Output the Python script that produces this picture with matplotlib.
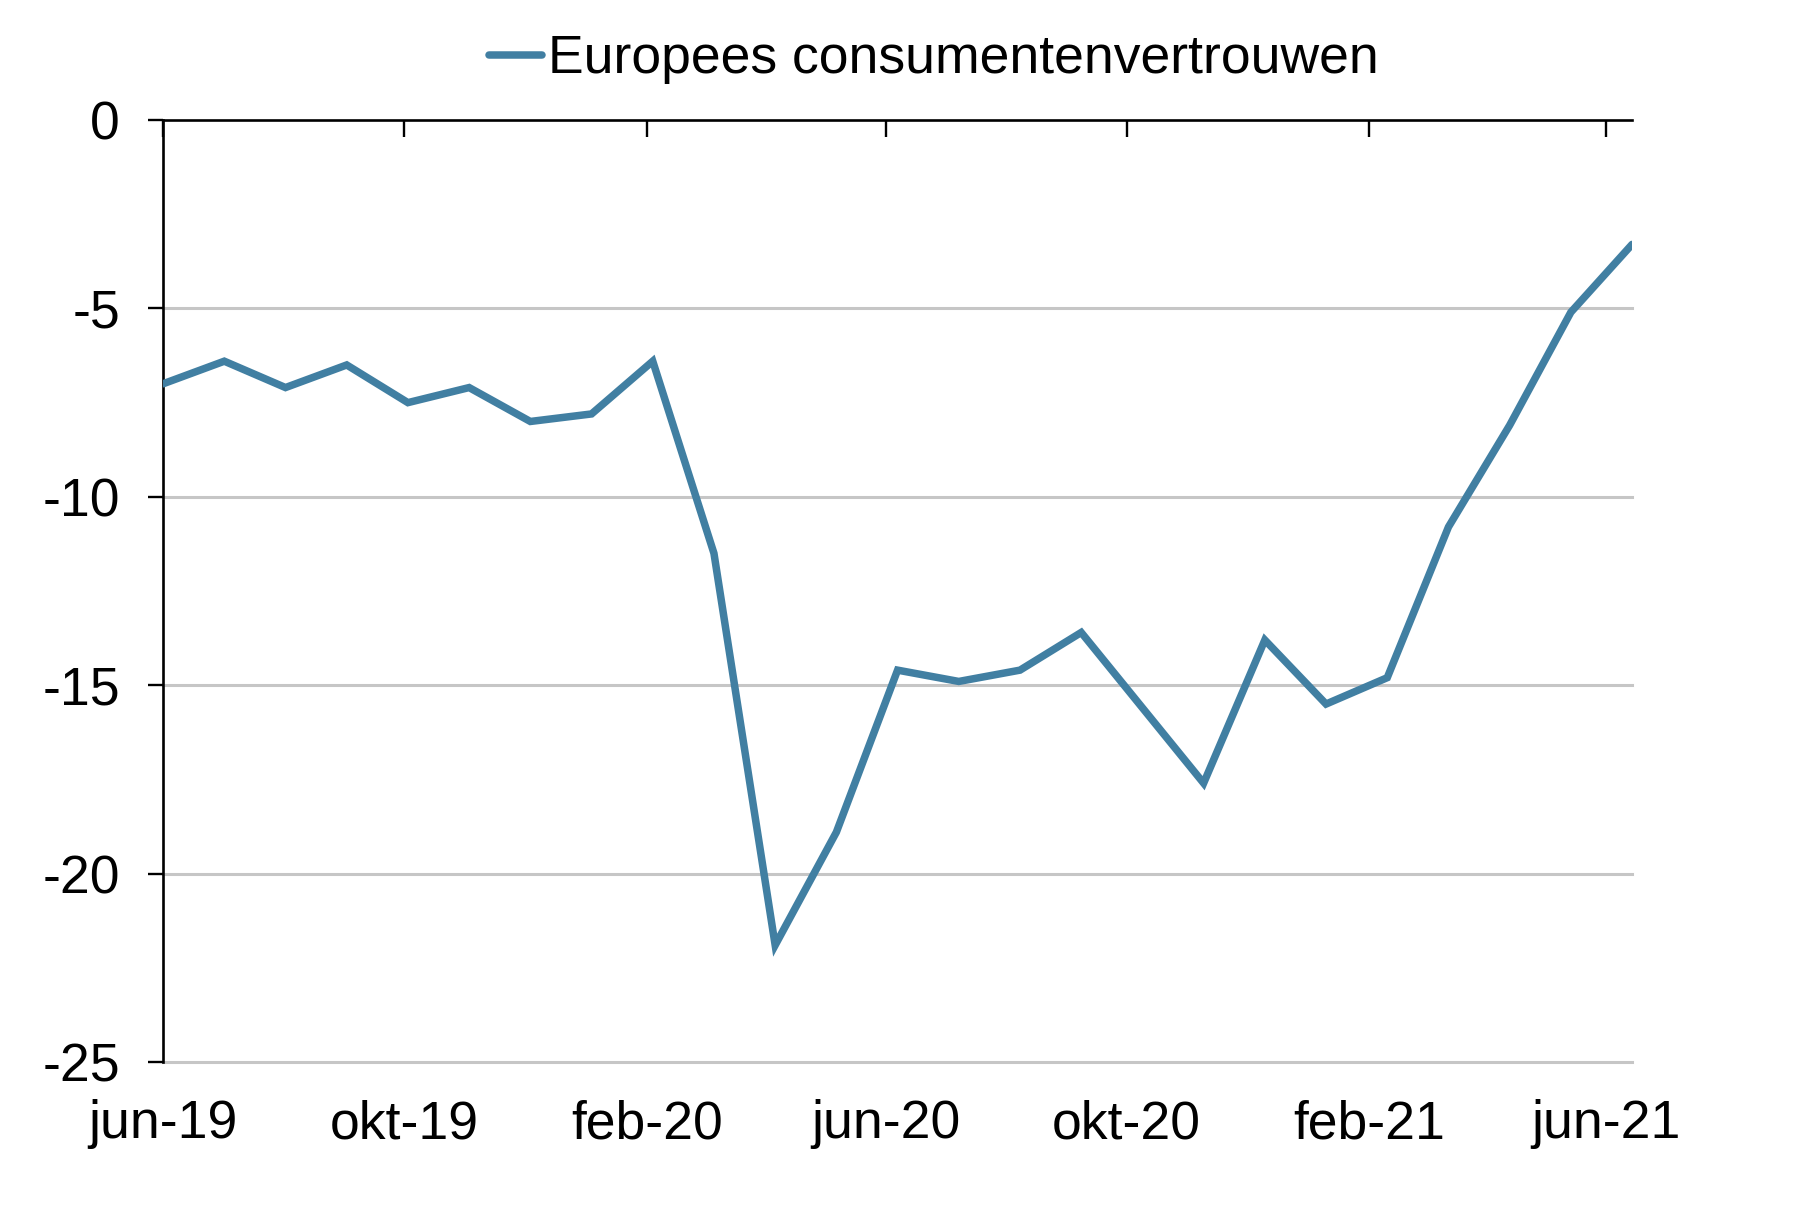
import pandas as pd
import matplotlib
matplotlib.use("Agg")
import matplotlib.pyplot as plt
import matplotlib.dates as mdates

plt.rcParams["font.family"] = ["Liberation Sans", "DejaVu Sans"]

# maandelijkse waarden jun-19 t/m jun-21
maanden = ["jun-19", "jul-19", "aug-19", "sep-19", "okt-19", "nov-19", "dec-19",
           "jan-20", "feb-20", "mrt-20", "apr-20", "mei-20", "jun-20", "jul-20",
           "aug-20", "sep-20", "okt-20", "nov-20", "dec-20", "jan-21", "feb-21",
           "mrt-21", "apr-21", "mei-21", "jun-21"]
vertrouwen = [-7.0, -6.4, -7.1, -6.5, -7.5, -7.1, -8.0,
              -7.8, -6.4, -11.5, -21.9, -18.9, -14.6, -14.9,
              -14.6, -13.6, -15.6, -17.6, -13.8, -15.5, -14.8,
              -10.8, -8.1, -5.1, -3.3]
reeks_naam = "Europees consumentenvertrouwen"
y_ticks = [0, -5, -10, -15, -20, -25]
nl_maand = {2: "feb", 6: "jun", 10: "okt"}

# datum-as zoals in Excel (punten ~31 dagen uit elkaar)
datums = pd.date_range("2019-06-01", periods=len(vertrouwen), freq="31D")

fig = plt.figure(figsize=(18.06, 12.09), dpi=100)
ax = fig.add_axes([0.0903, 0.1216, 0.8134, 0.7791])

for v in y_ticks[1:]:
    ax.axhline(v, color="#c6c6c6", lw=2.2, zorder=1, clip_on=False)

line, = ax.plot(datums, vertrouwen, color="#417fa2", lw=5.4,
                solid_joinstyle="miter", solid_capstyle="round", zorder=3, label=reeks_naam)

ax.set_ylim(-25, 0)
ax.set_xlim(datums[0], datums[-1])
ax.set_yticks(y_ticks)
ax.set_yticklabels([str(v) for v in y_ticks])

ax.xaxis.set_major_locator(mdates.MonthLocator(bymonth=[2, 6, 10]))
ax.xaxis.set_major_formatter(
    plt.FuncFormatter(lambda x, _: f"{nl_maand[mdates.num2date(x).month]}-{mdates.num2date(x):%y}"))

for s in ["right", "bottom"]:
    ax.spines[s].set_visible(False)
ax.spines["top"].set_linewidth(1.9)
ax.spines["left"].set_linewidth(1.9)

ax.tick_params(axis="x", top=True, bottom=False, labeltop=False, labelbottom=True,
               direction="in", length=12, width=1.7, pad=27, labelsize=38.5)
ax.tick_params(axis="y", direction="out", length=11, width=1.7, pad=20, labelsize=38.5)

fig.legend(handles=[line], loc="center", bbox_to_anchor=(0.517, 0.951),
           frameon=False, fontsize=38.5, handlelength=1.0, handletextpad=0.1)

fig.savefig("out.png", dpi=100)
